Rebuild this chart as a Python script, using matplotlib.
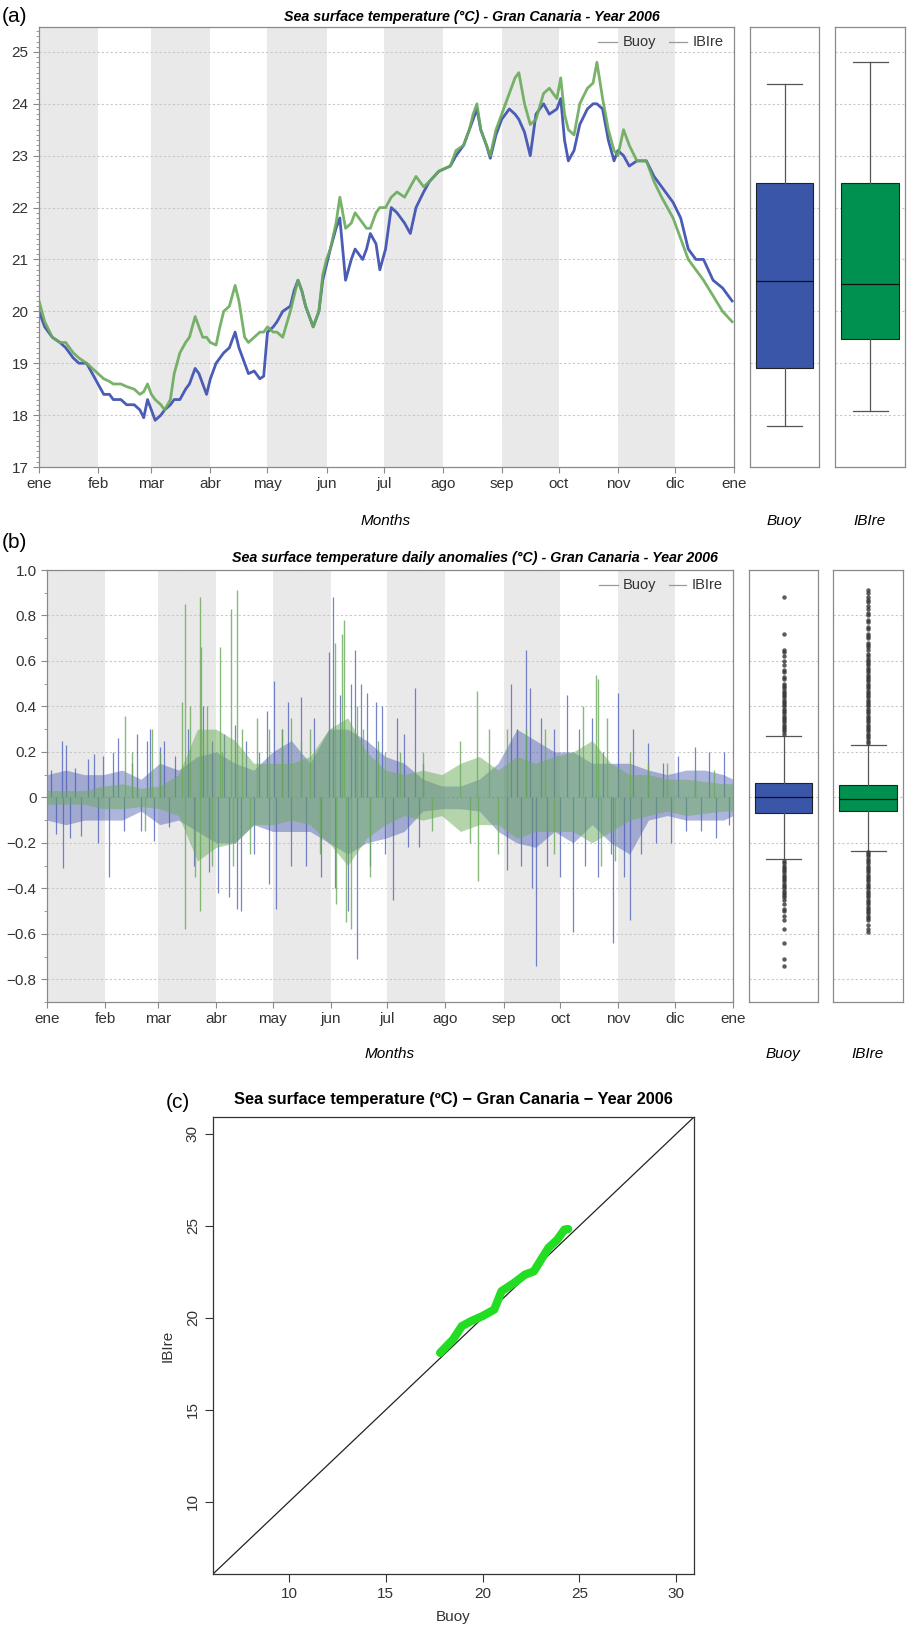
import matplotlib
matplotlib.use("Agg")
import matplotlib.pyplot as plt

plt.rcParams['font.family'] = ['Liberation Sans', 'DejaVu Sans']

W, H = 911, 1635

months = ["ene", "feb", "mar", "abr", "may", "jun", "jul", "ago", "sep", "oct", "nov", "dic", "ene"]
month_start = [0, 31, 59, 90, 120, 151, 181, 212, 243, 273, 304, 334, 365]

# (a) temperatura leida a mano sobre la figura (dia del año, ºC)
sst_days = [0, 3, 7, 11, 14, 18, 21, 25, 28, 31, 34, 37, 39, 43, 46, 50, 53, 55, 57, 59, 61, 64, 66, 69,
            71, 74, 77, 79, 82, 84, 86, 88, 90, 93, 95, 97, 100, 103, 105, 108, 110, 113, 116, 118, 120,
            123, 125, 128, 132, 134, 136, 138, 140, 142, 144, 147, 149, 151, 153, 156, 158, 161, 164, 166,
            168, 170, 172, 174, 177, 179, 182, 185, 188, 192, 195, 198, 202, 205, 210, 216, 219, 223, 226,
            228, 230, 232, 235, 237, 240, 243, 247, 250, 252, 255, 258, 261, 265, 268, 272, 274, 276, 278,
            281, 284, 288, 291, 293, 296, 299, 302, 304, 307, 310, 314, 319, 323, 327, 333, 337, 341, 345,
            349, 354, 359, 364]
sst_buoy = [20.0, 19.7, 19.5, 19.4, 19.3, 19.1, 19.0, 19.0, 18.8, 18.6, 18.4, 18.4, 18.3, 18.3, 18.2, 18.2,
            18.1, 17.95, 18.3, 18.1, 17.9, 18.0, 18.1, 18.2, 18.3, 18.3, 18.5, 18.6, 18.9, 18.8, 18.6, 18.4,
            18.7, 19.0, 19.1, 19.2, 19.3, 19.6, 19.3, 19.0, 18.8, 18.85, 18.7, 18.75, 19.6, 19.7, 19.8, 20.0,
            20.1, 20.4, 20.6, 20.4, 20.1, 19.9, 19.7, 20.0, 20.6, 20.9, 21.2, 21.6, 21.8, 20.6, 21.0, 21.2,
            21.1, 21.0, 21.2, 21.5, 21.3, 20.8, 21.2, 22.0, 21.9, 21.7, 21.5, 22.0, 22.3, 22.5, 22.7, 22.8,
            23.0, 23.2, 23.5, 23.7, 23.9, 23.5, 23.2, 22.95, 23.4, 23.7, 23.9, 23.8, 23.7, 23.45, 23.0, 23.8,
            24.0, 23.8, 23.9, 24.1, 23.3, 22.9, 23.1, 23.6, 23.9, 24.0, 24.0, 23.9, 23.3, 22.9, 23.1, 23.0,
            22.8, 22.9, 22.9, 22.6, 22.4, 22.1, 21.8, 21.2, 21.0, 21.0, 20.6, 20.45, 20.2]
sst_ibire = [20.2, 19.8, 19.5, 19.4, 19.4, 19.2, 19.1, 19.0, 18.9, 18.8, 18.7, 18.65, 18.6, 18.6, 18.55, 18.5,
             18.4, 18.45, 18.6, 18.4, 18.3, 18.2, 18.1, 18.3, 18.8, 19.2, 19.4, 19.5, 19.9, 19.7, 19.5, 19.5,
             19.4, 19.35, 19.7, 20.0, 20.1, 20.5, 20.2, 19.5, 19.4, 19.5, 19.6, 19.6, 19.7, 19.6, 19.6, 19.5,
             20.0, 20.3, 20.6, 20.4, 20.1, 19.9, 19.7, 20.0, 20.7, 21.0, 21.2, 21.7, 22.2, 21.6, 21.7, 21.9,
             21.8, 21.7, 21.6, 21.6, 21.9, 22.0, 22.0, 22.2, 22.3, 22.2, 22.4, 22.6, 22.4, 22.5, 22.7, 22.8,
             23.1, 23.2, 23.5, 23.8, 24.0, 23.5, 23.2, 23.0, 23.5, 23.8, 24.2, 24.5, 24.6, 24.0, 23.6, 23.7,
             24.2, 24.3, 24.1, 24.5, 23.8, 23.5, 23.4, 24.0, 24.3, 24.4, 24.8, 24.1, 23.5, 23.1, 23.0, 23.5,
             23.2, 22.9, 22.9, 22.5, 22.2, 21.8, 21.4, 21.0, 20.8, 20.6, 20.3, 20.0, 19.8]

# cajas (a): bigote inf, q1, mediana, q3, bigote sup
box_a_buoy = [17.79, 18.91, 20.59, 22.48, 24.39]
box_a_ibire = [18.08, 19.47, 20.53, 22.48, 24.81]

# (b) anomalias: banda densa cada 10 dias + picos sueltos
anom_days = [0, 10, 20, 30, 40, 50, 60, 70, 80, 90, 100, 110, 120, 130, 140, 150, 160, 170, 180,
             190, 200, 210, 220, 230, 240, 250, 260, 270, 280, 290, 300, 310, 320, 330, 340, 350, 360, 365]
buoy_hi = [0.10, 0.12, 0.10, 0.10, 0.12, 0.08, 0.15, 0.12, 0.18, 0.20, 0.15, 0.12, 0.20, 0.25, 0.15, 0.30,
           0.30, 0.25, 0.18, 0.15, 0.08, 0.05, 0.05, 0.08, 0.15, 0.30, 0.25, 0.20, 0.20, 0.15, 0.15, 0.15,
           0.12, 0.10, 0.12, 0.12, 0.10, 0.08]
buoy_lo = [-0.10, -0.12, -0.10, -0.10, -0.10, -0.06, -0.12, -0.10, -0.15, -0.20, -0.20, -0.12, -0.15, -0.15,
           -0.15, -0.20, -0.25, -0.20, -0.18, -0.15, -0.06, -0.05, -0.05, -0.06, -0.15, -0.20, -0.22, -0.15,
           -0.20, -0.12, -0.20, -0.25, -0.10, -0.08, -0.10, -0.10, -0.10, -0.08]
ibire_hi = [0.03, 0.03, 0.03, 0.05, 0.06, 0.04, 0.05, 0.10, 0.30, 0.30, 0.25, 0.15, 0.15, 0.15, 0.18, 0.30,
            0.35, 0.20, 0.12, 0.10, 0.12, 0.10, 0.15, 0.18, 0.12, 0.18, 0.15, 0.18, 0.20, 0.25, 0.15, 0.10,
            0.10, 0.08, 0.08, 0.07, 0.06, 0.06]
ibire_lo = [-0.03, -0.03, -0.03, -0.05, -0.05, -0.04, -0.05, -0.08, -0.28, -0.22, -0.20, -0.12, -0.12, -0.10,
            -0.12, -0.20, -0.30, -0.18, -0.12, -0.08, -0.10, -0.08, -0.15, -0.12, -0.12, -0.18, -0.15, -0.15,
            -0.15, -0.20, -0.15, -0.10, -0.08, -0.06, -0.08, -0.07, -0.06, -0.06]

buoy_spike_days = [2, 5, 7.8, 8.6, 10, 12, 15, 18, 22, 25, 27, 30, 33, 35, 38, 41, 45, 48, 50, 53, 55, 57, 60,
                   62, 65, 68, 75, 78, 83, 86, 88, 91, 94, 97, 100, 101, 103, 106, 110, 113, 117, 118, 121,
                   122, 125, 128, 130, 135, 138, 142, 146, 150, 152, 153, 156, 160, 162, 164, 165, 167, 170,
                   172, 175, 178, 180, 184, 186, 190, 192, 196, 198, 200, 245, 247, 250, 252, 254.7, 257, 258,
                   260, 263, 266, 270, 273, 276.6, 280, 283, 286, 290, 293, 296, 300, 301, 304, 307, 310, 312,
                   316, 320, 324, 328, 332, 336, 340, 345, 348, 352, 356, 360, 363]
buoy_spike_vals = [0.12, -0.16, 0.25, -0.31, 0.23, -0.18, 0.13, -0.17, 0.17, 0.19, -0.2, 0.18, -0.35, 0.2,
                   0.26, -0.15, 0.15, 0.28, -0.15, 0.25, 0.3, -0.19, 0.22, 0.25, -0.13, 0.18, 0.3, -0.3, 0.4,
                   -0.33, 0.25, -0.42, 0.28, -0.44, 0.32, -0.49, -0.5, 0.25, -0.25, 0.2, 0.38, -0.38, 0.51,
                   -0.49, 0.3, 0.42, -0.3, 0.44, -0.3, 0.35, -0.35, 0.64, 0.88, -0.4, 0.45, -0.5, 0.5, 0.65,
                   -0.71, 0.5, 0.46, -0.3, 0.42, 0.4, -0.25, -0.45, 0.35, 0.28, -0.22, 0.48, -0.22, 0.15,
                   -0.32, 0.5, 0.3, -0.3, 0.65, 0.48, -0.4, -0.74, 0.35, -0.3, 0.3, -0.35, 0.45, -0.59, 0.3,
                   -0.3, 0.35, -0.35, 0.2, -0.25, -0.64, 0.46, -0.35, -0.54, 0.3, -0.25, 0.24, -0.2, 0.15,
                   -0.2, 0.18, -0.15, 0.22, -0.15, 0.2, -0.18, 0.2, -0.12]
ibire_spike_days = [41.6, 45, 52, 56, 60, 72, 73.3, 73.6, 76, 79, 81.4, 81.6, 82, 85, 88, 91.9, 93, 97.8, 99,
                    100.9, 104, 108, 112, 118, 125, 130, 135, 140, 145, 153, 154, 157, 158, 159, 162, 165,
                    168, 172, 176, 180, 188, 200, 205, 220, 225, 229, 229.5, 235, 240, 245, 255, 265, 270,
                    285, 292, 293, 295, 298, 302, 310, 320, 330, 345, 355]
ibire_spike_vals = [0.36, 0.2, -0.15, 0.3, 0.2, 0.42, -0.58, 0.85, 0.4, -0.35, -0.5, 0.88, 0.66, 0.4, -0.3,
                    0.66, 0.2, 0.83, -0.3, 0.91, 0.3, -0.25, 0.35, 0.3, 0.3, 0.35, 0.25, 0.3, -0.25, 0.68,
                    -0.47, 0.72, 0.78, -0.55, -0.58, 0.4, 0.3, -0.35, 0.25, 0.2, 0.2, 0.2, -0.15, 0.25, -0.2,
                    0.47, -0.37, 0.3, -0.25, 0.3, 0.3, 0.3, -0.25, 0.4, 0.54, 0.52, -0.3, 0.35, -0.28, 0.2,
                    0.15, 0.15, 0.12, 0.12]

box_b_buoy = [-0.27, -0.07, 0.0, 0.065, 0.27]
box_b_ibire = [-0.235, -0.06, -0.005, 0.053, 0.23]
fliers_b_buoy = [0.88, 0.72, 0.65, 0.64, 0.62, 0.60, 0.58, 0.56, 0.55, 0.53, 0.52, 0.50, 0.49, 0.48, 0.47,
                 0.46, 0.45, 0.44, 0.43, 0.42, 0.41, 0.40, 0.39, 0.38, 0.37, 0.36, 0.35, 0.34, 0.33, 0.32,
                 0.31, 0.30, 0.29, 0.28, -0.28, -0.29, -0.30, -0.31, -0.32, -0.33, -0.34, -0.35, -0.36, -0.37,
                 -0.38, -0.39, -0.40, -0.41, -0.42, -0.43, -0.44, -0.45, -0.47, -0.49, -0.50, -0.52, -0.54,
                 -0.58, -0.64, -0.71, -0.74]
fliers_b_ibire = [0.91, 0.90, 0.88, 0.87, 0.86, 0.84, 0.83, 0.81, 0.80, 0.78, 0.77, 0.75, 0.74, 0.72, 0.71,
                  0.70, 0.68, 0.67, 0.66, 0.65, 0.63, 0.62, 0.61, 0.60, 0.59, 0.58, 0.57, 0.56, 0.55, 0.54,
                  0.53, 0.52, 0.51, 0.50, 0.49, 0.48, 0.47, 0.46, 0.45, 0.44, 0.43, 0.42, 0.41, 0.40, 0.39,
                  0.38, 0.37, 0.36, 0.35, 0.34, 0.33, 0.32, 0.31, 0.30, 0.29, 0.28, 0.27, 0.26, 0.25, 0.24,
                  -0.24, -0.25, -0.26, -0.27, -0.28, -0.29, -0.30, -0.31, -0.32, -0.33, -0.34, -0.35, -0.36,
                  -0.37, -0.38, -0.39, -0.40, -0.41, -0.42, -0.43, -0.44, -0.45, -0.46, -0.47, -0.48, -0.49,
                  -0.50, -0.51, -0.52, -0.53, -0.54, -0.56, -0.58, -0.59]

# (c) qq-plot, puntos leidos sobre la curva verde
qq_buoy = [17.81, 18.47, 18.93, 19.4, 20.0, 20.6, 20.98, 21.63, 22.19, 22.65, 23.02, 23.4, 23.86, 24.23, 24.42]
qq_ibire = [18.10, 18.82, 19.55, 19.82, 20.1, 20.45, 21.45, 21.9, 22.35, 22.53, 23.16, 23.8, 24.25, 24.8, 24.83]

BLUE_LINE = '#4a5cb5'
GREEN_LINE = '#6aaa5a'
BLUE_BOX = '#3a56a8'
GREEN_BOX = '#00904f'
SHADE = '#e9e9e9'
FRAME = '#8a8a8a'


def px_axes(fig, x0, y0, x1, y1):
    # crea ejes a partir de coordenadas en pixeles (origen arriba a la izquierda)
    return fig.add_axes([x0 / W, 1 - y1 / H, (x1 - x0) / W, (y1 - y0) / H])


def style_frame(ax, ticks_y=True):
    for s in ax.spines.values():
        s.set_color(FRAME)
        s.set_linewidth(0.9)
    ax.tick_params(colors='#333333', labelsize=9.5, length=4, color=FRAME, width=0.8)
    ax.tick_params(which='minor', length=2, color=FRAME, width=0.6)
    if not ticks_y:
        ax.set_yticks([])
        ax.set_xticks([])


def month_axis(ax):
    for i in range(0, 12, 2):
        ax.axvspan(month_start[i], month_start[i + 1], color=SHADE, lw=0, zorder=0)
    ax.set_xlim(0, 365)
    ax.set_xticks(month_start)
    ax.set_xticklabels(months)


def hgrid(ax, ticks):
    for t in ticks:
        ax.axhline(t, color='#c8c8c8', lw=0.8, ls=(0, (2, 2)), zorder=0.5)


def box_panel(ax, stats, fliers, color, ylim, ticks):
    hgrid(ax, ticks)
    st = dict(whislo=stats[0], q1=stats[1], med=stats[2], q3=stats[3], whishi=stats[4], fliers=fliers)
    ax.bxp([st], positions=[1], widths=0.84, patch_artist=True, capwidths=0.5,
           boxprops=dict(facecolor=color, edgecolor='#222222', lw=0.8),
           medianprops=dict(color='#111111', lw=0.9),
           whiskerprops=dict(color='#555555', lw=0.9),
           capprops=dict(color='#555555', lw=0.9),
           flierprops=dict(marker='o', ms=3.2, mfc='#333333', mec='none', alpha=0.8))
    ax.set_xlim(0.5, 1.5)
    ax.set_ylim(*ylim)
    style_frame(ax, ticks_y=False)


def legend_text(ax):
    ax.plot([0.805, 0.832], [0.965, 0.965], transform=ax.transAxes, color='#999999', lw=0.9)
    ax.text(0.84, 0.965, 'Buoy', transform=ax.transAxes, va='center', fontsize=10.5, color='#333333')
    ax.plot([0.906, 0.932], [0.965, 0.965], transform=ax.transAxes, color='#999999', lw=0.9)
    ax.text(0.94, 0.965, 'IBIre', transform=ax.transAxes, va='center', fontsize=10.5, color='#333333')


fig = plt.figure(figsize=(W / 100, H / 100), dpi=100)

# ---------- (a) ----------
ax = px_axes(fig, 39, 27, 734, 467)
month_axis(ax)
ticks_a = list(range(17, 26))
hgrid(ax, ticks_a)
ax.plot(sst_days, sst_buoy, color=BLUE_LINE, lw=2.0, zorder=2)
ax.plot(sst_days, sst_ibire, color=GREEN_LINE, lw=2.0, alpha=0.9, zorder=3)
ax.set_ylim(17, 25.48)
ax.set_yticks(ticks_a)
ax.set_yticks([17 + i / 10 for i in range(85)], minor=True)
style_frame(ax)
ax.tick_params(axis='both', labelsize=11)
legend_text(ax)

for x0, x1, st, col in [(750, 819, box_a_buoy, BLUE_BOX), (835, 905, box_a_ibire, GREEN_BOX)]:
    bx = px_axes(fig, x0, 27, x1, 467)
    box_panel(bx, st, [], col, (17, 25.48), ticks_a)

fig.text(2 / W, 1 - 16 / H, '(a)', fontsize=15, va='center', ha='left')
fig.text(472 / W, 1 - 17 / H, 'Sea surface temperature (°C) - Gran Canaria - Year 2006',
         fontsize=10.3, fontweight='bold', fontstyle='italic', ha='center', va='center')
fig.text(386 / W, 1 - 521 / H, 'Months', fontsize=11, fontstyle='italic', ha='center', va='center')
fig.text(784 / W, 1 - 521 / H, 'Buoy', fontsize=11, fontstyle='italic', ha='center', va='center')
fig.text(870 / W, 1 - 521 / H, 'IBIre', fontsize=11, fontstyle='italic', ha='center', va='center')

# ---------- (b) ----------
ax = px_axes(fig, 47, 570, 733, 1002)
month_axis(ax)
ticks_b = [-0.8, -0.6, -0.4, -0.2, 0, 0.2, 0.4, 0.6, 0.8, 1.0]
hgrid(ax, ticks_b)
ax.fill_between(anom_days, buoy_lo, buoy_hi, color=BLUE_LINE, alpha=0.45, lw=0, zorder=2)
ax.vlines(buoy_spike_days, 0, buoy_spike_vals, color=BLUE_LINE, lw=0.9, alpha=0.75, zorder=2)
ax.fill_between(anom_days, ibire_lo, ibire_hi, color=GREEN_LINE, alpha=0.5, lw=0, zorder=3)
ax.vlines(ibire_spike_days, 0, ibire_spike_vals, color=GREEN_LINE, lw=1.0, alpha=0.8, zorder=3)
ax.set_ylim(-0.9, 1.0)
ax.set_yticks(ticks_b)
ax.set_yticklabels(['\u22120.8', '\u22120.6', '\u22120.4', '\u22120.2', '0', '0.2', '0.4', '0.6', '0.8', '1.0'])
ax.set_yticks([-0.9 + i / 10 for i in range(20)], minor=True)
style_frame(ax)
ax.tick_params(axis='both', labelsize=11)
legend_text(ax)

for x0, x1, st, fl, col in [(749, 818, box_b_buoy, fliers_b_buoy, BLUE_BOX),
                            (833, 903, box_b_ibire, fliers_b_ibire, GREEN_BOX)]:
    bx = px_axes(fig, x0, 570, x1, 1002)
    box_panel(bx, st, fl, col, (-0.9, 1.0), ticks_b)

fig.text(2 / W, 1 - 543 / H, '(b)', fontsize=15, va='center', ha='left')
fig.text(475 / W, 1 - 558 / H, 'Sea surface temperature daily anomalies (°C) - Gran Canaria - Year 2006',
         fontsize=10.3, fontweight='bold', fontstyle='italic', ha='center', va='center')
fig.text(390 / W, 1 - 1054 / H, 'Months', fontsize=11, fontstyle='italic', ha='center', va='center')
fig.text(783 / W, 1 - 1054 / H, 'Buoy', fontsize=11, fontstyle='italic', ha='center', va='center')
fig.text(868 / W, 1 - 1054 / H, 'IBIre', fontsize=11, fontstyle='italic', ha='center', va='center')

# ---------- (c) ----------
ax = px_axes(fig, 213, 1117, 694, 1574)
lims = (6.08, 30.92)
ax.plot(lims, lims, color='#222222', lw=0.9)
ax.plot(qq_buoy, qq_ibire, color='#22dd22', lw=6, solid_capstyle='round', solid_joinstyle='round')
ax.set_xlim(*lims)
ax.set_ylim(*lims)
ax.set_xticks([10, 15, 20, 25, 30])
ax.set_yticks([10, 15, 20, 25, 30])
for s in ax.spines.values():
    s.set_color('#333333')
    s.set_linewidth(0.9)
ax.tick_params(labelsize=11, length=6, color='#333333', colors='#333333')
for lab in ax.get_yticklabels():
    lab.set_rotation(90)
    lab.set_va('center')
ax.set_xlabel('Buoy', fontsize=11, color='#333333', labelpad=6)
ax.set_ylabel('IBIre', fontsize=11, color='#333333', labelpad=8)
fig.text(178 / W, 1 - 1103 / H, '(c)', fontsize=15, va='center', ha='center')
fig.text(453 / W, 1 - 1099 / H, 'Sea surface temperature (ºC) \u2212 Gran Canaria \u2212 Year 2006',
         fontsize=11.8, fontweight='bold', ha='center', va='center')

fig.savefig('out.png', dpi=100)
